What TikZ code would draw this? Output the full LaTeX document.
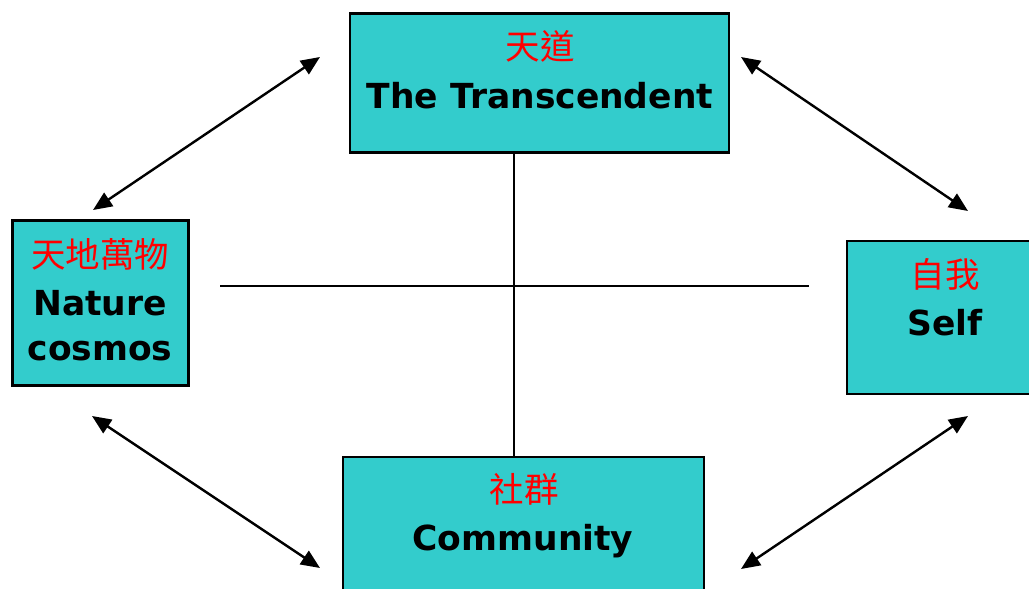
\documentclass[tikz,border=0pt]{standalone}
\usepackage{fontspec}
\setmainfont{DejaVu Sans}
\newfontfamily\cjk{Noto Sans CJK TC}
\usetikzlibrary{arrows.meta}
\definecolor{boxfill}{HTML}{33CCCC}
\definecolor{cjkred}{HTML}{FF0000}
\begin{document}
\begin{tikzpicture}[x=1pt,y=-1pt,
  box/.style={draw=black,line width=2.2pt,fill=boxfill,rectangle,inner sep=0pt},
  cjktext/.style={font=\cjk\fontsize{34.5}{38}\selectfont,text=cjkred,inner sep=0pt,anchor=center},
  entext/.style={font=\bfseries\fontsize{34.5}{40}\selectfont,text=black,inner sep=0pt,anchor=base},
  crossline/.style={draw=black,line width=2.2pt},
  dblarrow/.style={draw=black,line width=2.4pt,{Triangle[length=19pt,width=16pt]}-{Triangle[length=19pt,width=16pt]}}]
\useasboundingbox (0,0) rectangle (1029,589);
\clip (0,0) rectangle (1029,589);
% boxes
\node[box,minimum width=379pt,minimum height=139pt] (top) at (539.5,83) {};
\node[box,minimum width=176pt,minimum height=165pt] (left) at (100.5,303) {};
\node[box,minimum width=200pt,minimum height=153pt] (right) at (947,317.5) {};
\node[box,minimum width=361pt,minimum height=150pt] (bottom) at (523.5,532) {};
% texts
\node[cjktext] (topcjk) at (540,46) {天道};
\node[entext] (topen) at (540,108) {The Transcendent};
\node[cjktext] (leftcjk) at (100,254) {天地萬物};
\node[entext] (lefta) at (100,315) {Nature};
\node[entext] (leftb) at (100,360) {cosmos};
\node[cjktext] (rightcjk) at (945,274) {自我};
\node[entext] (righten) at (945,335) {Self};
\node[cjktext] (botcjk) at (524,489) {社群};
\node[entext] (boten) at (523,550) {Community};
% cross lines
\coordinate (vx) at (514,0);
\coordinate (hl) at (220,286);
\coordinate (hr) at (809,286);
\draw[crossline] (top.south -| vx) -- (bottom.north -| vx);
\draw[crossline] (hl) -- (hr);
% arrows
\coordinate (a1) at (320,57);
\coordinate (a2) at (93,210);
\coordinate (b1) at (741,57);
\coordinate (b2) at (968,211);
\coordinate (c1) at (92,416);
\coordinate (c2) at (320,568);
\coordinate (d1) at (968,416);
\coordinate (d2) at (741,569);
\draw[dblarrow] (a1) -- (a2);
\draw[dblarrow] (b1) -- (b2);
\draw[dblarrow] (c1) -- (c2);
\draw[dblarrow] (d1) -- (d2);
\end{tikzpicture}
\end{document}
